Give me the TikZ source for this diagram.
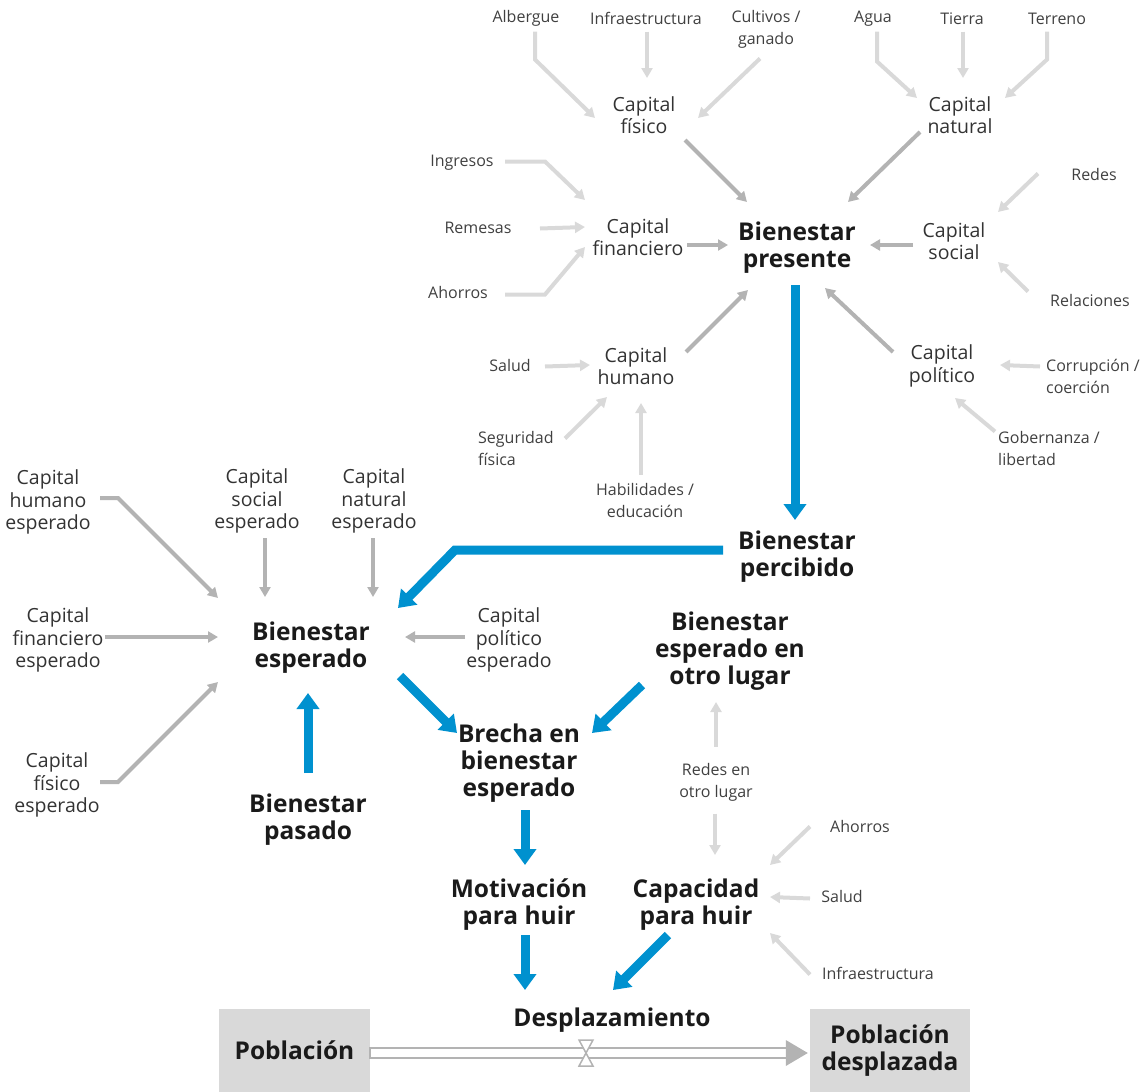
\documentclass[tikz,border=0pt]{standalone}
\usepackage{fontspec}
\setmainfont{Open Sans}
\usetikzlibrary{arrows.meta}
\definecolor{lightarr}{HTML}{D9D9D9}
\definecolor{medarr}{HTML}{B3B3B3}
\definecolor{blueA}{HTML}{0091CF}
\definecolor{boxfill}{HTML}{D9D9D9}
\definecolor{leafc}{HTML}{404040}
\definecolor{capc}{HTML}{333333}
\definecolor{bigc}{HTML}{1A1A1A}
\definecolor{pipec}{HTML}{B3B3B3}
\tikzset{
  leafn/.style={font=\fontsize{16}{22}\selectfont, text=leafc, align=center, inner sep=0pt, yshift=-1.5pt},
  leafl/.style={leafn, align=left, anchor=west},
  capn/.style={font=\fontsize{19.5}{22.5}\selectfont, text=capc, align=center, inner sep=0pt},
  bign/.style={font=\fontsize{24.5}{27}\selectfont\bfseries, text=bigc, align=center, inner sep=0pt},
  boxn/.style={bign, fill=boxfill, minimum height=83pt},
  la/.style={draw=lightarr, line width=4pt, -{Triangle[length=10pt,width=11pt]}},
  ma/.style={draw=medarr, line width=4pt, -{Triangle[length=10pt,width=11pt]}},
  ba/.style={draw=blueA, line width=9pt, -{Triangle[length=16pt,width=22pt]}},
  pipeline/.style={draw=pipec, line width=2pt},
}
\begin{document}
\begin{tikzpicture}[x=1pt,y=-1pt]
\useasboundingbox (0,0) rectangle (1146,1092);
% ---- leaf labels
\node[leafn] (alb) at (526,17) {Albergue};
\node[leafn] (infra) at (646,17) {Infraestructura};
\node[leafn] (cult) at (766,28) {Cultivos /\\ganado};
\node[leafn] (agua) at (873,17) {Agua};
\node[leafn] (tierra) at (962,17) {Tierra};
\node[leafn] (terreno) at (1057,17) {Terreno};
\node[leafn] (ingr) at (462,161) {Ingresos};
\node[leafn] (rem) at (478,226) {Remesas};
\node[leafn] (ahor) at (458,291) {Ahorros};
\node[leafn] (redes) at (1094,173) {Redes};
\node[leafn] (relac) at (1090,299) {Relaciones};
\node[leafn] (salud) at (510,364) {Salud};
\node[leafl] (segur) at (478,447) {Seguridad\\física};
\node[leafn] (habil) at (645,499) {Habilidades /\\educación};
\node[leafl] (corr) at (1046,375) {Corrupción /\\coerción};
\node[leafl] (gob) at (998,447) {Gobernanza /\\libertad};
\node[leafn] (redesotro) at (716,781) {Redes en\\otro lugar};
\node[leafn] (ahor2) at (860,825) {Ahorros};
\node[leafn] (salud2) at (842,895) {Salud};
\node[leafn] (infra2) at (878,972) {Infraestructura};
% ---- capital nodes
\node[capn] (cfis) at (644,115) {Capital\\físico};
\node[capn] (cnat) at (960,115) {Capital\\natural};
\node[capn] (cfin) at (638,237) {Capital\\financiero};
\node[capn] (csoc) at (954,241) {Capital\\social};
\node[capn] (chum) at (636,366) {Capital\\humano};
\node[capn] (cpol) at (942,366) {Capital\\político};
\node[capn] (chumE) at (48,502) {Capital\\humano\\esperado};
\node[capn] (csocE) at (257,501) {Capital\\social\\esperado};
\node[capn] (cnatE) at (374,501) {Capital\\natural\\esperado};
\node[capn] (cfinE) at (58,640) {Capital\\financiero\\esperado};
\node[capn] (cpolE) at (509,640) {Capital\\político\\esperado};
\node[capn] (cfisE) at (57,785) {Capital\\físico\\esperado};
% ---- main nodes
\node[bign] (bpres) at (797,247.5) {Bienestar\\presente};
\node[bign] (bperc) at (797,556.5) {Bienestar\\percibido};
\node[bign] (besp) at (311,647.5) {Bienestar\\esperado};
\node[bign] (botro) at (730,651) {Bienestar\\esperado en\\otro lugar};
\node[bign] (brecha) at (519,763) {Brecha en\\bienestar\\esperado};
\node[bign] (bpas) at (308,820) {Bienestar\\pasado};
\node[bign] (motiv) at (519,905) {Motivación\\para huir};
\node[bign] (capac) at (696,905) {Capacidad\\para huir};
\node[bign] (despl) at (612,1020) {Desplazamiento};
\node[boxn, minimum width=151pt] (pob) at (294.5,1050.5) {Población};
\node[boxn, minimum width=160pt] (pobd) at (890,1050.5) {Población\\desplazada};
% ---- light arrows
\draw[la] ([shift={(9,13)}]alb.center) -- ++(0,28) -- ([shift={(-49,3)}]cfis.center);
\draw[la] ([shift={(1,13)}]infra.center) -- ([shift={(3,-37)}]cfis.center);
\draw[la] ([shift={(-6,29)}]cult.center) -- ([shift={(54,3)}]cfis.center);
\draw[la] ([shift={(4,13)}]agua.center) -- ++(0,30) -- ([shift={(-43,-17)}]cnat.center);
\draw[la] ([shift={(1,13)}]tierra.center) -- ([shift={(3,-37)}]cnat.center);
\draw[la] ([shift={(-10,13)}]terreno.center) -- ++(0,28) -- ([shift={(45,-17)}]cnat.center);
\draw[la] ([shift={(43,-1)}]ingr.center) -- ++(40,0) -- ([shift={(-53,-37)}]cfin.center);
\draw[la] ([shift={(62,1)}]rem.center) -- ([shift={(-53,-10)}]cfin.center);
\draw[la] ([shift={(47,2)}]ahor.center) -- ++(40,0) -- ([shift={(-53,10)}]cfin.center);
\draw[la] ([shift={(-56,-1)}]redes.center) -- ([shift={(44,-29)}]csoc.center);
\draw[la] ([shift={(-62,-9)}]relac.center) -- ([shift={(44,21)}]csoc.center);
\draw[la] ([shift={(35,1)}]salud.center) -- ([shift={(-46,-1)}]chum.center);
\draw[la] ([shift={(87,-10)}]segur.west) -- ([shift={(-29,31)}]chum.center);
\draw[la] ([shift={(-4,-26)}]habil.center) -- ([shift={(5,37)}]chum.center);
\draw[la] ([shift={(-6,-10)}]corr.west) -- ([shift={(58,-1)}]cpol.center);
\draw[la] ([shift={(-3,-17)}]gob.west) -- ([shift={(13,32)}]cpol.center);
\draw[la] ([shift={(0,-36)}]redesotro.center) -- ([shift={(-14,51)}]botro.center);
\draw[la] ([shift={(-1,31)}]redesotro.center) -- ([shift={(19,-50)}]capac.center);
\draw[la] ([shift={(-50,0)}]ahor2.center) -- ([shift={(74,-40)}]capac.center);
\draw[la] ([shift={(-32,2)}]salud2.center) -- ([shift={(74,-8)}]capac.center);
\draw[la] ([shift={(-68,1)}]infra2.center) -- ([shift={(74,28)}]capac.center);
% ---- medium arrows
\draw[ma] ([shift={(41,25)}]cfis.center) -- ([shift={(-50,-45.5)}]bpres.center);
\draw[ma] ([shift={(49,8)}]cfin.center) -- ([shift={(-69,-2.5)}]bpres.center);
\draw[ma] ([shift={(50,-14)}]chum.center) -- ([shift={(-49,42.5)}]bpres.center);
\draw[ma] ([shift={(-40,17)}]cnat.center) -- ([shift={(51,-45.5)}]bpres.center);
\draw[ma] ([shift={(-41,4)}]csoc.center) -- ([shift={(73,-2.5)}]bpres.center);
\draw[ma] ([shift={(-49,-14)}]cpol.center) -- ([shift={(28,40.5)}]bpres.center);
\draw[ma] ([shift={(52,-4)}]chumE.center) -- ++(18,0) -- ([shift={(-93,-49.5)}]besp.center);
\draw[ma] ([shift={(8,37)}]csocE.center) -- ([shift={(-46,-50.5)}]besp.center);
\draw[ma] ([shift={(-1,37)}]cnatE.center) -- ([shift={(62,-50.5)}]besp.center);
\draw[ma] ([shift={(47,-3)}]cfinE.center) -- ([shift={(-93,-10.5)}]besp.center);
\draw[ma] ([shift={(-44,-3)}]cpolE.center) -- ([shift={(94,-10.5)}]besp.center);
\draw[ma] ([shift={(43,-3)}]cfisE.center) -- ++(18,0) -- ([shift={(-93,34.5)}]besp.center);
% ---- blue arrows
\draw[ba] ([shift={(-2,37.5)}]bpres.center) -- ([shift={(-2,-36.5)}]bperc.center);
\draw[ba] ([shift={(-74,-6.5)}]bperc.center) -- ++(-268,0) -- ([shift={(87,-39.5)}]besp.center);
\draw[ba] ([shift={(0,-47)}]bpas.center) -- ([shift={(-3,45.5)}]besp.center);
\draw[ba] ([shift={(89,28.5)}]besp.center) -- ([shift={(-62,-30)}]brecha.center);
\draw[ba] ([shift={(-88,34)}]botro.center) -- ([shift={(73,-30)}]brecha.center);
\draw[ba] ([shift={(6,47)}]brecha.center) -- ([shift={(6,-40)}]motiv.center);
\draw[ba] ([shift={(6,30)}]motiv.center) -- ([shift={(-87,-30)}]despl.center);
\draw[ba] ([shift={(-28,30)}]capac.center) -- ([shift={(1,-30)}]despl.center);
% ---- flow pipe
\draw[pipeline] ([shift={(0,-2.5)}]pob.east) rectangle ([shift={(-23,7.5)}]pobd.west);
\fill[pipec] ([shift={(-24,-10.5)}]pobd.west) -- ([shift={(-2,2.5)}]pobd.west) -- ([shift={(-24,15.5)}]pobd.west) -- cycle;
\coordinate (valve) at ([shift={(-26,33)}]despl.center);
\draw[pipeline, line width=1.5pt, fill=white] ([shift={(-7,-13)}]valve) -- ([shift={(7,-13)}]valve) -- (valve) -- cycle;
\draw[pipeline, line width=1.5pt, fill=white] ([shift={(-7,13)}]valve) -- ([shift={(7,13)}]valve) -- (valve) -- cycle;
\end{tikzpicture}
\end{document}
